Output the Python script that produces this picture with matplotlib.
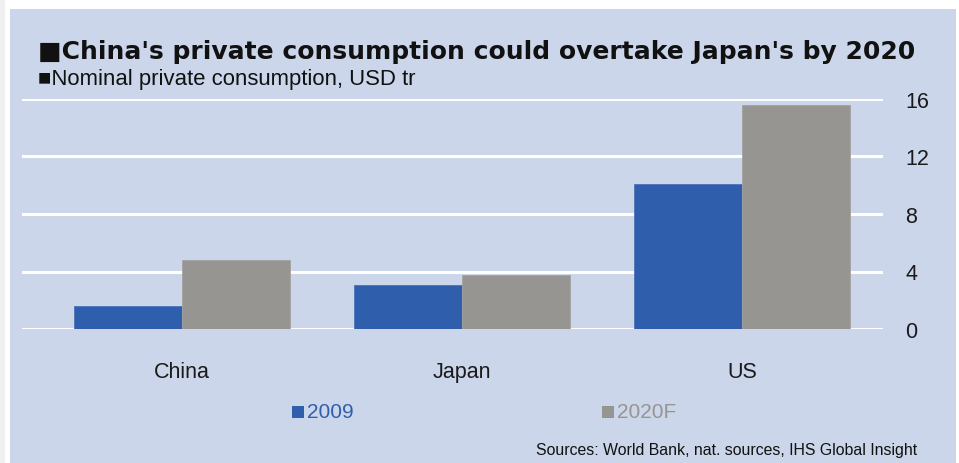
import matplotlib
matplotlib.use("Agg")
import matplotlib.pyplot as plt
import numpy as np
from matplotlib.patches import Rectangle

plt.rcParams['font.family'] = ['Liberation Sans', 'DejaVu Sans']

categories = ["China", "Japan", "US"]
series_names = ["2009", "2020F"]
values_2009 = [1.6, 3.05, 10.1]
values_2020 = [4.8, 3.75, 15.55]
yticks = [0, 4, 8, 12, 16]

title = "\u25A0China's private consumption could overtake Japan's by 2020"
subtitle = "\u25A0Nominal private consumption, USD tr"
source = "Sources: World Bank, nat. sources, IHS Global Insight"

blue = "#2F5FAC"
gray = "#969592"
panel = "#CBD6EA"

W, H = 959, 464
fig = plt.figure(figsize=(W / 100, H / 100), dpi=100)
fig.patch.set_facecolor("white")
fig.patches.append(Rectangle((0, 0), 5 / W, 1, transform=fig.transFigure,
                             facecolor="#F0F0F0", edgecolor="none", zorder=-10))
fig.patches.append(Rectangle((10 / W, 0), (956 - 10) / W, (H - 10) / H,
                             transform=fig.transFigure, facecolor=panel,
                             edgecolor="none", zorder=-10))

ax = fig.add_axes([22 / W, (H - 330) / H, 861 / W, 230 / H])
ax.set_zorder(5)
ax.set_facecolor("none")
x = np.arange(len(categories))
bw = 0.386
ax.bar(x - bw / 2, values_2009, bw, color=blue, edgecolor="#4A74B8", linewidth=0.6, zorder=3)
ax.bar(x + bw / 2, values_2020, bw, color=gray, edgecolor="#A3A2A0", linewidth=0.6, zorder=3)
ax.set_xlim(-0.571, 2.504)
ax.set_ylim(0, 16)
ax.set_yticks(yticks)
ax.yaxis.tick_right()
ax.grid(axis="y", color="white", linewidth=2.2, zorder=1)
ax.set_axisbelow(True)
for s in ax.spines.values():
    s.set_visible(False)
ax.tick_params(axis="y", length=0, pad=16, labelsize=15.5, labelcolor="#1a1a1a")
ax.set_xticks(x)
ax.set_xticklabels(categories)
ax.tick_params(axis="x", length=0, pad=23, labelsize=15.5, labelcolor="#1a1a1a")
for lbl in ax.get_yticklabels():
    lbl.set_horizontalalignment("left")

fig.text(38 / W, 1 - 52 / H, title, fontsize=18, fontweight="bold",
         family=["DejaVu Sans"], color="#111111", va="center", ha="left")
fig.text(38 / W, 1 - 80 / H, subtitle, fontsize=15.9, color="#111111",
         va="center", ha="left")

# legend: square markers + labels
for (px, col, name) in [(292, blue, series_names[0]), (602, gray, series_names[1])]:
    fig.patches.append(Rectangle((px / W, 1 - 419 / H), 12 / W, 12 / H,
                                 transform=fig.transFigure, facecolor=col,
                                 edgecolor="none", zorder=2))
    fig.text((px + 15) / W, 1 - 413 / H, name, fontsize=15,
             color=col, va="center", ha="left")

fig.text(917 / W, 1 - 451 / H, source, fontsize=11.4, color="#111111",
         va="center", ha="right")

fig.savefig("out.png", dpi=100, facecolor=fig.get_facecolor())
